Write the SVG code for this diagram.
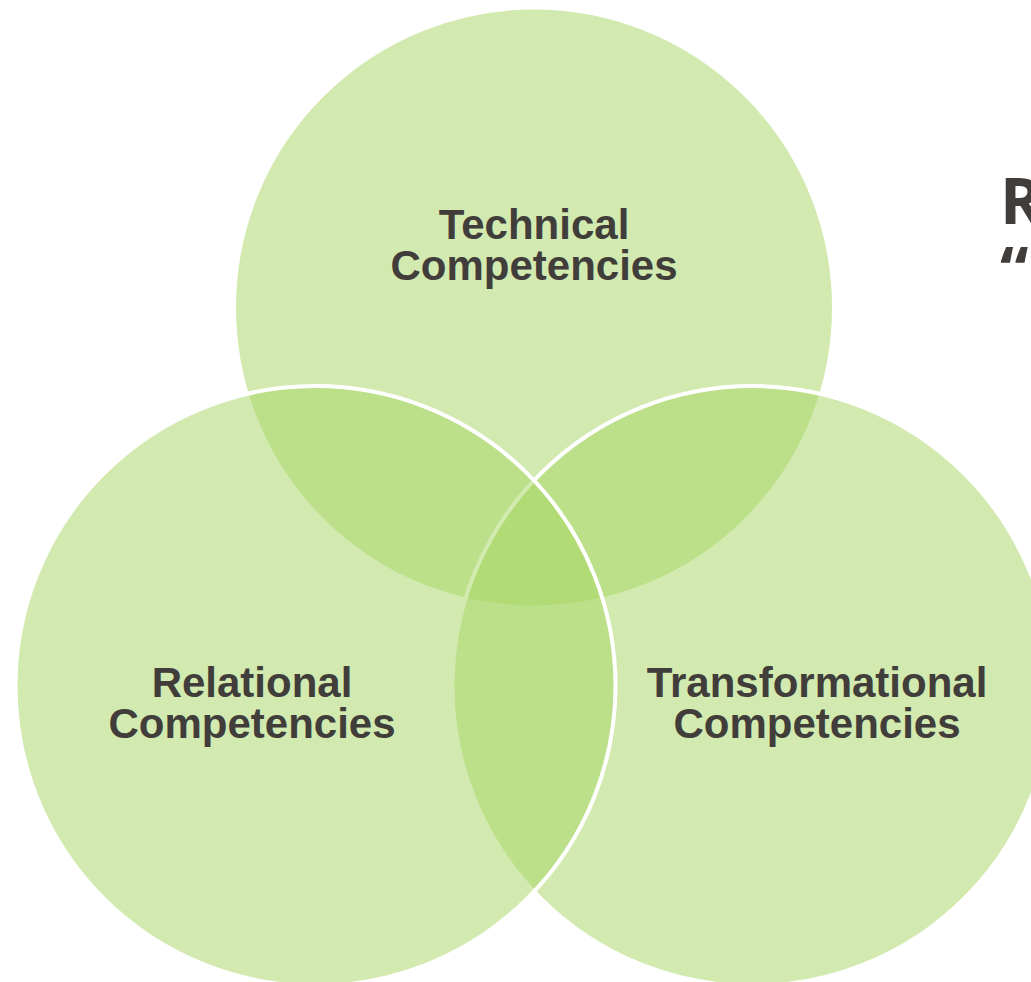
<svg xmlns="http://www.w3.org/2000/svg" width="1031" height="982" viewBox="0 0 1031 982">
  <style>
    .circle { fill: #A5D561; fill-opacity: 0.5; stroke: #FFFFFF; stroke-width: 4; }
    .label { font-family: "Liberation Sans", Arial, sans-serif; font-weight: bold; font-size: 42px; fill: #403D3A; text-anchor: middle; }
    .side { font-family: "Open Sans", "Liberation Sans", sans-serif; font-weight: bold; font-size: 64px; fill: #403D3A; }
  </style>
  <rect width="1031" height="982" fill="#FFFFFF"/>
  <g id="technical">
    <circle class="circle" cx="534" cy="307.5" r="300"/>
    <text class="label" x="534" y="239">Technical</text>
    <text class="label" x="534" y="280">Competencies</text>
  </g>
  <g id="transformational">
    <circle class="circle" cx="752.5" cy="686" r="300"/>
    <text class="label" x="817" y="697">Transformational</text>
    <text class="label" x="817" y="738">Competencies</text>
  </g>
  <g id="relational">
    <circle class="circle" cx="315.5" cy="686" r="300"/>
    <text class="label" x="252" y="697">Relational</text>
    <text class="label" x="252" y="738">Competencies</text>
  </g>
  <g id="connectors"></g>
  <g id="side-text">
    <text class="side" x="1000" y="224">R</text>
    <text class="side" x="1000" y="293">“</text>
  </g>
</svg>
